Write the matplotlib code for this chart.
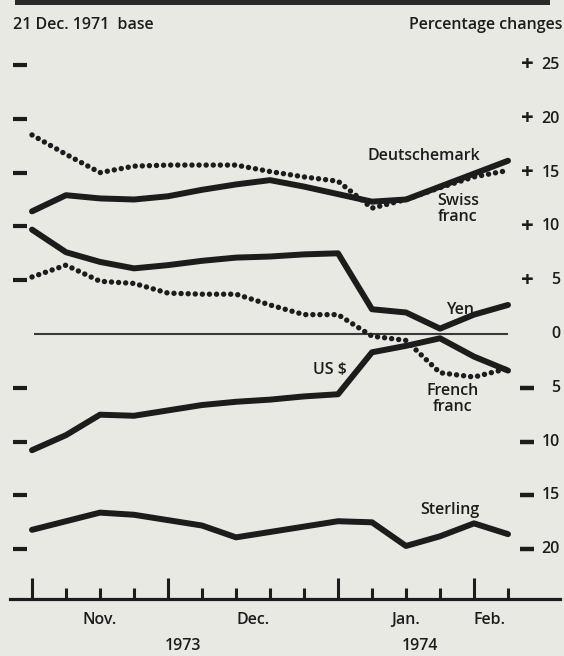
import matplotlib
matplotlib.use("Agg")
import matplotlib.pyplot as plt
from matplotlib.patches import Rectangle

# ---- data (weekly readings, percentage change since 21 Dec 1971) ----
weeks = list(range(15))
swiss_franc = [18.5, 16.7, 15.0, 15.6, 15.7, 15.7, 15.7, 15.1, 14.6, 14.2, 11.7, 12.5, 13.6, 14.6, 15.2]
deutschemark = [11.4, 12.9, 12.6, 12.5, 12.8, 13.4, 13.9, 14.3, 13.7, 13.0, 12.3, 12.5, 13.7, 14.9, 16.1]
yen = [9.7, 7.6, 6.7, 6.1, 6.4, 6.8, 7.1, 7.2, 7.4, 7.5, 2.3, 2.0, 0.5, 1.8, 2.7]
french_franc = [5.3, 6.4, 4.9, 4.7, 3.8, 3.7, 3.7, 2.7, 1.8, 1.8, -0.2, -0.6, -3.6, -4.0, -3.2]
us_dollar = [-10.8, -9.4, -7.5, -7.6, -7.1, -6.6, -6.3, -6.1, -5.8, -5.6, -1.7, -1.1, -0.4, -2.1, -3.4]
sterling = [-18.2, -17.4, -16.6, -16.8, -17.3, -17.8, -18.9, -18.4, -17.9, -17.4, -17.5, -19.7, -18.8, -17.6, -18.6]

month_ticks = [0, 4, 9, 13]
week_ticks = [1, 2, 3, 5, 6, 7, 8, 10, 11, 12, 14]
month_labels = ["Nov.", "Dec.", "Jan.", "Feb."]
month_label_pos = [2, 6.5, 11, 13.45]
year_labels = ["1973", "1974"]
year_label_pos = [4.45, 11.4]
y_levels = [25, 20, 15, 10, 5, 0, -5, -10, -15, -20]
y_level_text = ["25", "20", "15", "10", "5", "0", "5", "10", "15", "20"]

BG = "#e9e9e4"
INK = "#1c1c1c"
FONT = "Open Sans"

W, H = 564, 656
fig = plt.figure(figsize=(W / 100, H / 100), dpi=100, facecolor=BG)

# pixel geometry
px_left, px_right, px_bottom, px_top = 10, 560, 599, 40
ax = fig.add_axes([px_left / W, 1 - px_bottom / H, (px_right - px_left) / W, (px_bottom - px_top) / H])
ax.set_facecolor(BG)

x0px, dxpx = 32, 34.0
y0px, dypx = 334, 10.76
ax.set_xlim((px_left - x0px) / dxpx, (px_right - x0px) / dxpx)
ax.set_ylim((y0px - px_bottom) / dypx, (y0px - px_top) / dypx)

for s in ["left", "right", "top"]:
    ax.spines[s].set_visible(False)
ax.spines["bottom"].set_linewidth(2.3)
ax.spines["bottom"].set_color(INK)
ax.set_yticks([])
ax.set_xticks(month_ticks)
ax.set_xticks(week_ticks, minor=True)
ax.tick_params(axis="x", which="major", direction="in", length=15, width=2.2,
               color=INK, labelbottom=False)
ax.tick_params(axis="x", which="minor", direction="in", length=8, width=2.2,
               color=INK, labelbottom=False)

# zero line
ax.hlines(0, 0.06, 14, color="#3a3a3a", lw=1.5, zorder=1)

# left dashes
for v in y_levels:
    if v != 0:
        ax.plot([-0.56, -0.14], [v, v], color=INK, lw=3.0, solid_capstyle="butt", clip_on=False)

solid = dict(color=INK, lw=4.3, solid_joinstyle="round", solid_capstyle="round", zorder=3)
dotted = dict(color=INK, lw=3.9, linestyle=(0, (0.01, 1.3)), dash_capstyle="round", zorder=3)

ax.plot(weeks, swiss_franc, **dotted)
ax.plot(weeks, deutschemark, **solid)
ax.plot(weeks, yen, **solid)
ax.plot(weeks, french_franc, **dotted)
ax.plot(weeks, us_dollar, **solid)
ax.plot(weeks, sterling, **solid)

fs = 11.5
tkw = dict(fontfamily=FONT, fontweight="semibold", color=INK, fontsize=fs, linespacing=1.0)
ax.text(11.53, 16.5, "Deutschemark", ha="center", va="center", **tkw)
ax.text(12.53, 11.66, "Swiss\nfranc", ha="center", va="center", **tkw)
ax.text(12.6, 2.23, "Yen", ha="center", va="center", **tkw)
ax.text(8.76, -3.35, "US $", ha="center", va="center", **tkw)
ax.text(12.38, -6.0, "French\nfranc", ha="center", va="center", **tkw)
ax.text(12.29, -16.36, "Sterling", ha="center", va="center", **tkw)

# right-hand scale
sign_x = (527 - x0px) / dxpx
num_x = (560 - x0px) / dxpx
for v, t in zip(y_levels, y_level_text):
    if v > 0:
        ax.text(sign_x, v, "+", ha="center", va="center", fontfamily=FONT,
                fontweight="bold", fontsize=16, color=INK, clip_on=False)
    elif v < 0:
        ax.plot([sign_x - 0.2, sign_x + 0.2], [v, v], color=INK, lw=3.2,
                solid_capstyle="butt", clip_on=False)
    ax.text(num_x, v, t, ha="right", va="center", clip_on=False, **tkw)

# month / year labels
ymonth = (y0px - 620) / dypx
yyear = (y0px - 646) / dypx
for p, t in zip(month_label_pos, month_labels):
    ax.text(p, ymonth, t, ha="center", va="center", clip_on=False, **tkw)
for p, t in zip(year_label_pos, year_labels):
    ax.text(p, yyear, t, ha="center", va="center", clip_on=False, **tkw)

# header
fig.text(13 / W, 1 - 25 / H, "21 Dec. 1971  base", ha="left", va="center", **tkw)
fig.text(562 / W, 1 - 25 / H, "Percentage changes", ha="right", va="center", **tkw)
fig.add_artist(Rectangle((15 / W, 1 - 5 / H), 535 / W, 5 / H, transform=fig.transFigure,
                         facecolor="#2a2a2a", edgecolor="none"))

fig.savefig("out.png", dpi=100, facecolor=BG)
